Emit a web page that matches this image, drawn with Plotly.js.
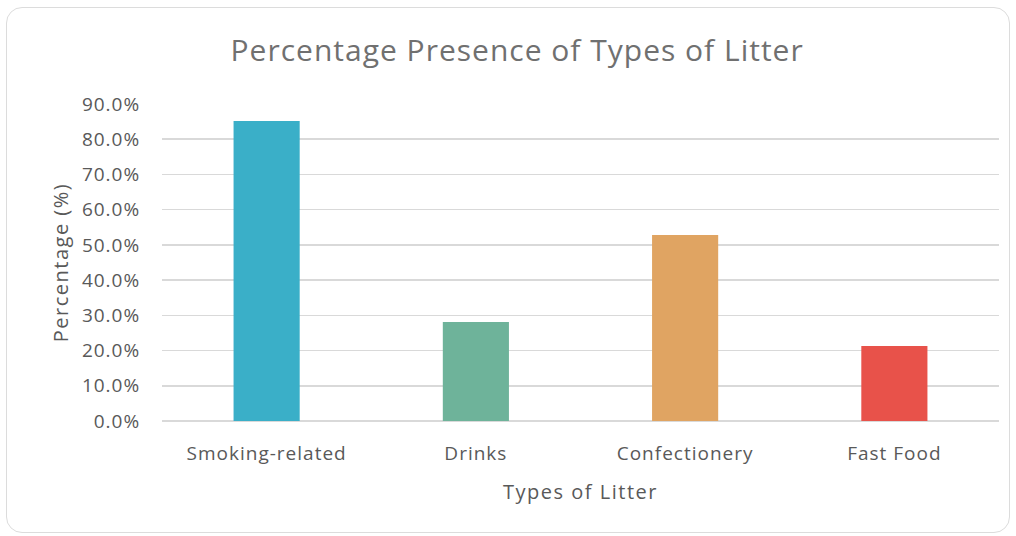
<!DOCTYPE html>
<html>
<head>
<meta charset="utf-8">
<script src="https://cdn.plot.ly/plotly-3.0.1.min.js"></script>
<style>
html,body{margin:0;padding:0;background:#fff;}
#wrap{position:relative;width:1016px;height:536px;overflow:hidden;}
#chart{position:absolute;left:0;top:0;width:1016px;height:536px;}
#frame{position:absolute;left:6px;top:7px;width:1002px;height:524px;border:1.5px solid #dcdcdc;border-radius:16px;pointer-events:none;}
#chart .xtick text, #chart .ytick text{letter-spacing:1px;}
#chart .gtitle{letter-spacing:1px;}
#chart .xtitle, #chart .ytitle{letter-spacing:1.5px;}
</style>
</head>
<body>
<div id="wrap">
<div id="chart"></div>
<div id="frame"></div>
</div>
<script>
const categories = ["Smoking-related", "Drinks", "Confectionery", "Fast Food"];
const percentages = [0.852, 0.281, 0.528, 0.213];
const barColors = ["#3AAFC8", "#6EB39A", "#E0A462", "#E8524A"];
const yTicks = [0, 0.1, 0.2, 0.3, 0.4, 0.5, 0.6, 0.7, 0.8, 0.9];

const fontFam = "Open Sans, Lato, sans-serif";

Plotly.newPlot("chart", [{
  type: "bar",
  x: categories,
  y: percentages,
  marker: {color: barColors},
  width: 0.316,
  hoverinfo: "none"
}], {
  width: 1016,
  height: 536,
  margin: {l: 162, r: 17, t: 104, b: 115},
  paper_bgcolor: "rgba(0,0,0,0)",
  plot_bgcolor: "rgba(0,0,0,0)",
  showlegend: false,
  title: {
    text: "Percentage Presence of Types of Litter",
    font: {family: fontFam, size: 30, color: "#707070"},
    x: 0.509, xanchor: "center",
    y: 0.905, yanchor: "middle"
  },
  xaxis: {
    title: {text: "Types of Litter", font: {family: fontFam, size: 20, color: "#595959"}, standoff: 20},
    tickfont: {family: fontFam, size: 19, color: "#595959"},
    showgrid: false,
    showline: false,
    ticks: "outside", ticklen: 15, tickcolor: "rgba(0,0,0,0)",
    fixedrange: true
  },
  yaxis: {
    title: {text: "Percentage (%)", font: {family: fontFam, size: 20, color: "#595959"}, standoff: 12},
    range: [0, 0.9],
    tickvals: yTicks,
    tickformat: ".1%",
    tickfont: {family: fontFam, size: 19, color: "#595959"},
    showgrid: true,
    gridcolor: "#d9d9d9",
    gridwidth: 1.5,
    zeroline: true,
    zerolinecolor: "#d9d9d9",
    zerolinewidth: 1.5,
    ticks: "outside", ticklen: 17, tickcolor: "rgba(0,0,0,0)",
    fixedrange: true
  }
}, {staticPlot: true, displayModeBar: false});
</script>
</body>
</html>
